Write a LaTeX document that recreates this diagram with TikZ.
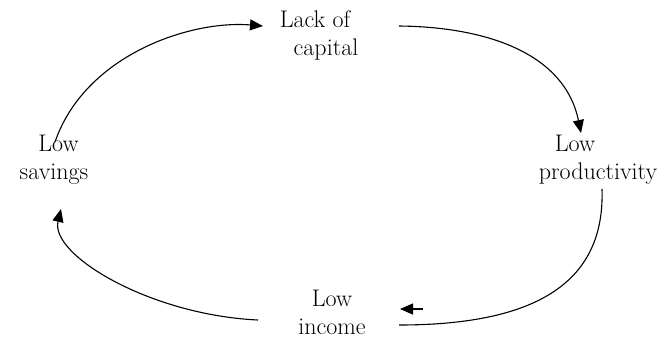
\documentclass[tikz,border=0pt]{standalone}
\usetikzlibrary{arrows.meta}
\begin{document}
\begin{tikzpicture}[x=1pt,y=-1pt,
  lbl/.style={font=\fontsize{24}{28}\selectfont, align=center, inner sep=0pt, anchor=base},
  link/.style={line width=1.1pt},
  head/.style={line width=1.1pt,-{Triangle[length=13pt,width=11pt]}}]
\useasboundingbox (0,0) rectangle (668,343);
% labels (anchor base = baseline of the last line)
\node[lbl] (cap) at (320,55) {\hspace*{-10pt}Lack of\\\hspace*{12pt}capital};
\node[lbl] (prod) at (598,179) {\hspace*{-46pt}Low\\productivity};
\node[lbl] (sav) at (54,179) {\hspace*{9pt}Low\\savings};
\node[lbl] (inc) at (332,334) {Low\\income};
% connector end points
\coordinate (s1) at (55,142);
\coordinate (e1) at (263,26);
\coordinate (s2) at (399,26);
\coordinate (e2) at (581,133);
\coordinate (s3) at (602,189);
\coordinate (e3) at (399,325);
\coordinate (h3a) at (423,309);
\coordinate (h3b) at (400,309);
\coordinate (s4) at (258,320);
\coordinate (e4) at (61,209);
% connectors
\draw[head] (s1) .. controls (85,55) and (190,20) .. (e1);
\draw[head] (s2) .. controls (490,27) and (565,55) .. (e2);
\draw[link] (s3) .. controls (605,280) and (540,325) .. (e3);
\draw[head] (h3a) -- (h3b);
\draw[head] (s4) .. controls (150,315) and (50,255) .. (e4);
\end{tikzpicture}
\end{document}
